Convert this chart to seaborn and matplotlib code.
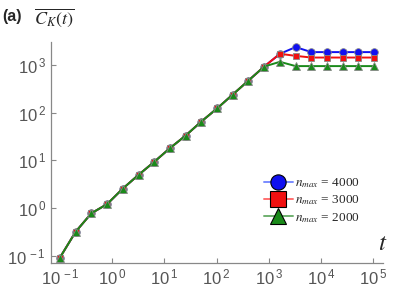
import numpy as np
import pandas as pd
import matplotlib
matplotlib.use('agg')
import matplotlib.pyplot as plt
from matplotlib.lines import Line2D
from matplotlib.font_manager import FontProperties
import seaborn as sns

# time points (log spaced, doubling)
t = [0.1, 0.2, 0.4, 0.8, 1.6, 3.2, 6.4, 12.8, 25.6, 51.2, 102.4, 204.8,
     409.6, 819.2, 1638.4, 3276.8, 6553.6, 13107.2, 26214.4, 52428.8, 104857.6]

# common growth part
common = [0.092, 0.32, 0.78, 1.21, 2.56, 4.96, 9.3, 18.0, 33, 65, 122, 239, 469, 920]
ck_4000 = common + [1700, 2350, 1845, 1845, 1845, 1845, 1845]
ck_3000 = common + [1700, 1540, 1420, 1420, 1420, 1420, 1420]
ck_2000 = common + [1156, 940, 940, 940, 940, 940, 940]

labels = [r'$n_{max}$ = 4000', r'$n_{max}$ = 3000', r'$n_{max}$ = 2000']
colors = ['#1010f0', '#f01010', '#1a8a1a']
light = ['#7a8cff', '#ff7070', '#70b070']
markers = ['o', 's', '^']

sns.set_style('ticks')
plt.rcParams['font.family'] = ['Liberation Sans', 'DejaVu Sans']
plt.rcParams['mathtext.fontset'] = 'custom'
plt.rcParams['mathtext.rm'] = 'Liberation Sans'
plt.rcParams['mathtext.it'] = 'Liberation Sans:italic'

fig = plt.figure(figsize=(3.99, 3.08), dpi=100)
ax = fig.add_axes([0.128, 0.146, 0.832, 0.718])

for vals, c, m in zip([ck_4000, ck_3000, ck_2000], colors, markers):
    df = pd.DataFrame({'t': t, 'ck': vals})
    sns.lineplot(data=df, x='t', y='ck', ax=ax, color=c, marker=m,
                 markersize=5.5 if m != 's' else 5, markeredgecolor='#888888',
                 markeredgewidth=0.6, linewidth=1.4)

ax.set_xscale('log')
ax.set_yscale('log')
ax.set_xlim(10**-1.17, 10**5.19)
ax.set_ylim(10**-1.15, 10**3.48)
ax.set_xticks([10.0**k for k in range(-1, 6)])
ax.set_xticklabels([r'$\mathregular{10^{\,%d}}$' % k for k in range(-1, 6)])
ax.set_yticks([10.0**k for k in range(-1, 4)])
ax.set_yticklabels([r'$\mathregular{10^{\,%d}}$' % k for k in range(-1, 4)])
ax.minorticks_off()
ax.tick_params(direction='in', length=3.5, color='#888888', labelcolor='#555555',
               labelsize=12, width=0.8)
ax.set_xlabel('')
ax.set_ylabel('')
for s in ['top', 'right']:
    ax.spines[s].set_visible(False)
for s in ['left', 'bottom']:
    ax.spines[s].set_color('#888888')
    ax.spines[s].set_linewidth(0.9)

handles = [Line2D([], [], color=lc, lw=1.4, marker=m, markersize=11,
                  markerfacecolor=c, markeredgecolor='black', markeredgewidth=0.8)
           for c, lc, m in zip(colors, light, markers)]
leg = ax.legend(handles, labels, loc='upper left', bbox_to_anchor=(0.625, 0.415),
                frameon=False, handlelength=2.2, handletextpad=0.2,
                labelspacing=0.25, borderaxespad=0,
                prop=FontProperties(family='Liberation Serif', size=9.5,
                                    math_fontfamily='stix'))

fig.text(0.005, 0.945, '(a)', fontsize=11.5, fontweight='bold', ha='left', va='center')
fig.text(0.085, 0.945, r'$\overline{C_K(t)}$', fontsize=13, ha='left', va='center',
         math_fontfamily='stix')
fig.text(0.96, 0.21, r'$t$', fontsize=18, ha='center', va='center',
         math_fontfamily='stix')

fig.savefig('out.png', dpi=100)
